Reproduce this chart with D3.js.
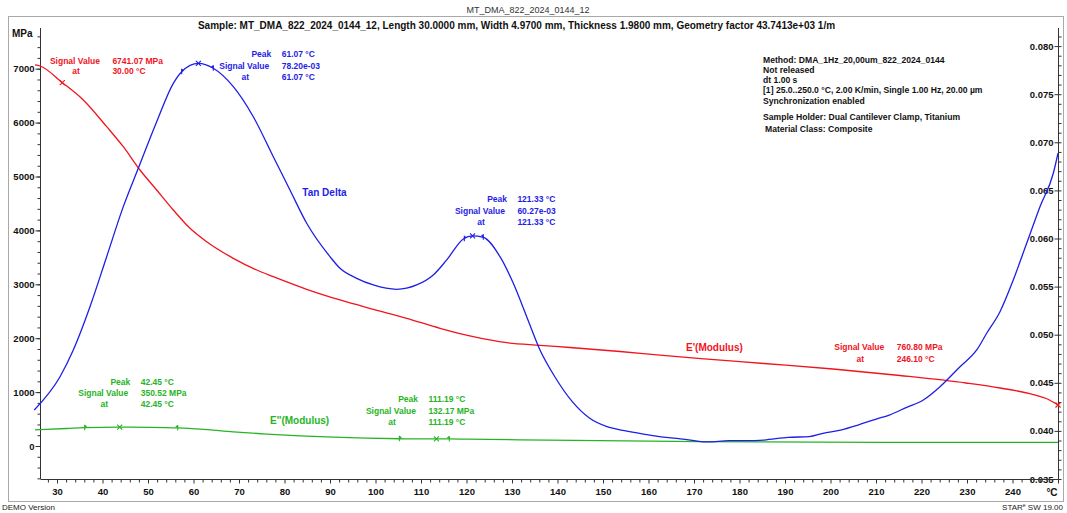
<!DOCTYPE html>
<html>
<head>
<meta charset="utf-8">
<script src="https://cdn.jsdelivr.net/npm/d3@7"></script>
<style>
  body { margin: 0; background: #fff; }
  svg { display: block; font-family: "Liberation Sans", Arial, sans-serif; }
</style>
</head>
<body>
<svg id="chart" width="1067" height="513"></svg>
<script>
// ---- Tan Delta (right axis) vs furnace temperature, °C ----
const tanDeltaTemp = [25.00, 30.66, 33.58, 37.25, 40.92, 44.57, 47.87, 51.91, 55.56, 57.41, 61.07, 64.35, 68.75, 73.14, 77.54, 81.20, 84.88, 90.00, 92.20, 95.87, 99.52, 104.66, 109.05, 112.70, 115.65, 119.30, 121.33, 123.69, 127.36, 130.29, 133.23, 136.15, 139.41, 143.25, 147.08, 150.88, 154.73, 158.62, 162.40, 166.22, 170.04, 173.08, 177.69, 181.54, 185.38, 190.72, 195.32, 198.35, 202.20, 206.04, 209.87, 212.92, 216.75, 220.40, 224.07, 228.46, 232.13, 234.33, 237.25, 240.17, 243.12, 246.04, 248.97, 250.00];
const tanDeltaValue = [0.04217, 0.04563, 0.04841, 0.05291, 0.05811, 0.06331, 0.06730, 0.07214, 0.07613, 0.07734, 0.07820, 0.07769, 0.07578, 0.07266, 0.06850, 0.06504, 0.06158, 0.05811, 0.05690, 0.05586, 0.05517, 0.05472, 0.05517, 0.05621, 0.05777, 0.05995, 0.06027, 0.06012, 0.05811, 0.05534, 0.05187, 0.04841, 0.04563, 0.04304, 0.04131, 0.04044, 0.04002, 0.03968, 0.03940, 0.03923, 0.03898, 0.03885, 0.03898, 0.03898, 0.03905, 0.03933, 0.03940, 0.03975, 0.04009, 0.04061, 0.04121, 0.04165, 0.04245, 0.04321, 0.04459, 0.04667, 0.04841, 0.05015, 0.05239, 0.05569, 0.05950, 0.06331, 0.06678, 0.06886];

// ---- Storage modulus E' (left axis, MPa) vs sample temperature, °C ----
const storageTemp = [24.08, 25.16, 30.00, 34.55, 39.63, 43.23, 46.86, 50.48, 54.09, 57.71, 61.33, 67.11, 72.19, 75.79, 83.04, 90.27, 97.50, 104.75, 111.97, 119.19, 126.45, 133.67, 140.19, 151.04, 159.72, 168.62, 182.28, 197.27, 211.80, 226.13, 233.57, 240.73, 243.55, 246.10];
const storageValue = [7069, 7050, 6741.07, 6419, 5924, 5553, 5121, 4750, 4378, 4039, 3790, 3482, 3265, 3141, 2907, 2709, 2536, 2369, 2184, 2028, 1917, 1868, 1828, 1753, 1688, 1623, 1531, 1429, 1308, 1169, 1076, 955, 881, 760.80];

// ---- Loss modulus E'' (left axis, MPa) vs sample temperature, °C ----
const lossTemp = [24.07, 30.95, 34.86, 42.45, 49.03, 55.05, 59.88, 67.11, 74.36, 81.59, 88.82, 96.07, 103.31, 107.50, 111.19, 113.97, 117.76, 129.34, 168.40, 207.50, 246.10];
const lossValue = [300, 325, 340, 350.52, 347, 335, 313, 263, 221, 189, 165, 145, 135, 131.5, 132.17, 131, 127, 115, 80, 68, 66];

// ---- Evaluations ----
const tanDeltaPeakTemp = [61.07, 121.33];
const tanDeltaPeakValue = [0.07820, 0.06027];
const tanDeltaPeakLimits = [[57.41, 64.35], [119.52, 123.69]];
const lossPeakTemp = [42.45, 111.19];
const lossPeakValue = [350.52, 132.17];
const lossPeakLimits = [[34.86, 55.05], [103.15, 113.99]];
const storagePointTemp = [30.00, 246.10];
const storagePointValue = [6741.07, 760.80];

// ---- Axis ticks ----
const tempTicks = [30, 40, 50, 60, 70, 80, 90, 100, 110, 120, 130, 140, 150, 160, 170, 180, 190, 200, 210, 220, 230, 240];
const modulusTicks = [0, 1000, 2000, 3000, 4000, 5000, 6000, 7000];
const tanDeltaTicks = [0.035, 0.040, 0.045, 0.050, 0.055, 0.060, 0.065, 0.070, 0.075, 0.080];

// sample thermocouple reading = gain * furnace temperature + offset
const sampleTempGain = 0.98752;
const sampleTempOffset = -0.781;

const RED = "#f0141e", BLUE = "#1e1ee6", GREEN = "#26b426";
const svg = d3.select("#chart");

const plotTop = 28, plotBottom = 479, axisLeftX = 40.5, axisRightX = 1058.5;
const x = d3.scaleLinear().domain([25, 250]).range([34.25, 1058]);
const xMod = d3.scaleLinear()
  .domain(x.domain().map(t => sampleTempGain * t + sampleTempOffset))
  .range(x.range());
const yL = d3.scaleLinear().domain([-612, 7755]).range([plotBottom, plotTop]);
const yR = d3.scaleLinear().domain([0.035, 0.08188]).range([plotBottom, plotTop]);

// outer frame
svg.append("rect").attr("x", 8.5).attr("y", 16.5).attr("width", 1055).attr("height", 485)
  .attr("fill", "none").attr("stroke", "#a9a9a9").attr("stroke-width", 1);

// header texts
svg.append("text").attr("x", 528).attr("y", 13).attr("text-anchor", "middle")
  .attr("font-size", 9).attr("fill", "#333").text("MT_DMA_822_2024_0144_12");
svg.append("text").attr("x", 516.5).attr("y", 29).attr("text-anchor", "middle")
  .attr("font-size", 10).attr("font-weight", "bold").attr("fill", "#111")
  .text("Sample: MT_DMA_822_2024_0144_12, Length 30.0000 mm, Width 4.9700 mm, Thickness 1.9800 mm, Geometry factor 43.7413e+03 1/m");

// footer texts
svg.append("text").attr("x", 2).attr("y", 510).attr("font-size", 8).attr("fill", "#222").text("DEMO Version");
const star = svg.append("text").attr("x", 1063).attr("y", 510).attr("text-anchor", "end")
  .attr("font-size", 8).attr("fill", "#222");
star.append("tspan").text("STAR");
star.append("tspan").attr("font-size", 5).attr("dy", -3).text("e");
star.append("tspan").attr("dy", 3).text(" SW 19.00");

function styleAxis(g, size) {
  g.select(".domain").remove();
  g.selectAll("line").attr("stroke", "#333");
  g.selectAll("text").attr("font-family", null).attr("font-weight", "bold")
    .attr("font-size", size).attr("fill", "#111");
}

// left axis
svg.append("line").attr("x1", axisLeftX).attr("x2", axisLeftX).attr("y1", plotTop).attr("y2", plotBottom)
  .attr("stroke", "#333");
svg.append("g").attr("transform", `translate(${axisLeftX},0)`)
  .call(d3.axisLeft(yL).tickValues(d3.range(-600, 7800, 200)).tickSize(3).tickFormat(""))
  .call(g => styleAxis(g, 9.5));
svg.append("g").attr("transform", `translate(${axisLeftX},0)`)
  .call(d3.axisLeft(yL).tickValues(modulusTicks).tickSize(5).tickPadding(1).tickFormat(d3.format("d")))
  .call(g => styleAxis(g, 9.5));
svg.append("text").attr("x", 12).attr("y", 37).attr("font-size", 10).attr("font-weight", "bold")
  .attr("fill", "#111").text("MPa");

// right axis
svg.append("line").attr("x1", axisRightX).attr("x2", axisRightX).attr("y1", plotTop).attr("y2", plotBottom)
  .attr("stroke", "#333");
svg.append("g").attr("transform", `translate(${axisRightX},0)`)
  .call(d3.axisRight(yR).tickValues(d3.range(35, 82, 1).map(v => v / 1000)).tickSize(3).tickFormat(""))
  .call(g => styleAxis(g, 9.5));
svg.append("g").attr("transform", `translate(${axisRightX},0)`)
  .call(d3.axisLeft(yR).tickValues(tanDeltaTicks).tickSize(4).tickPadding(1).tickFormat(d3.format(".3f")))
  .call(g => styleAxis(g, 9.5));

// bottom axis
svg.append("line").attr("x1", axisLeftX).attr("x2", axisRightX).attr("y1", plotBottom + 0.5).attr("y2", plotBottom + 0.5)
  .attr("stroke", "#333");
svg.append("g").attr("transform", `translate(0,${plotBottom + 0.5})`)
  .call(d3.axisBottom(x).tickValues(d3.range(28, 251, 2).filter(t => t % 10 !== 0)).tickSize(3).tickFormat(""))
  .call(g => styleAxis(g, 9.5));
svg.append("g").attr("transform", `translate(0,${plotBottom + 0.5})`)
  .call(d3.axisBottom(x).tickValues(tempTicks.concat([250])).tickSize(4).tickPadding(5)
    .tickFormat(t => t === 250 ? "" : d3.format("d")(t)))
  .call(g => styleAxis(g, 9.5));
svg.append("text").attr("x", x(250) - 6).attr("y", plotBottom + 16.5).attr("text-anchor", "middle")
  .attr("font-size", 10).attr("font-weight", "bold").attr("fill", "#111").text("°C");

// curves
const lineTan = d3.line().x(d => x(d[0])).y(d => yR(d[1])).curve(d3.curveMonotoneX);
const lineMod = d3.line().x(d => xMod(d[0])).y(d => yL(d[1])).curve(d3.curveMonotoneX);

svg.append("path").attr("d", lineMod(d3.zip(lossTemp, lossValue)))
  .attr("fill", "none").attr("stroke", GREEN).attr("stroke-width", 1.3);
svg.append("path").attr("d", lineMod(d3.zip(storageTemp, storageValue)))
  .attr("fill", "none").attr("stroke", RED).attr("stroke-width", 1.3);
svg.append("path").attr("d", lineTan(d3.zip(tanDeltaTemp, tanDeltaValue)))
  .attr("fill", "none").attr("stroke", BLUE).attr("stroke-width", 1.3);

// helpers for markers
function interp(ts, vs, t) {
  const i = d3.bisectLeft(ts, t);
  if (i <= 0) return vs[0];
  if (i >= ts.length) return vs[vs.length - 1];
  const f = (t - ts[i - 1]) / (ts[i] - ts[i - 1]);
  return vs[i - 1] + f * (vs[i] - vs[i - 1]);
}
function cross(px, py, color) {
  svg.append("path").attr("transform", `translate(${px},${py})`)
    .attr("d", "M-2.5,-2.5L2.5,2.5M-2.5,2.5L2.5,-2.5")
    .attr("stroke", color).attr("stroke-width", 1.1).attr("fill", "none");
}
function limit(px, py, color, dir) {
  svg.append("path").attr("transform", `translate(${px},${py})`)
    .attr("d", "M0,-3L0,2.5").attr("stroke", color).attr("stroke-width", 1.1);
  svg.append("path").attr("transform", `translate(${px},${py})`)
    .attr("d", `M0,-3L${2.5 * dir},-1.5L0,0Z`).attr("fill", color);
}

tanDeltaPeakTemp.forEach((t, i) => {
  cross(x(t), yR(tanDeltaPeakValue[i]), BLUE);
  tanDeltaPeakLimits[i].forEach((lt, k) =>
    limit(x(lt), yR(interp(tanDeltaTemp, tanDeltaValue, lt)), BLUE, k === 0 ? 1 : -1));
});
lossPeakTemp.forEach((t, i) => {
  cross(xMod(t), yL(lossPeakValue[i]), GREEN);
  lossPeakLimits[i].forEach((lt, k) =>
    limit(xMod(lt), yL(interp(lossTemp, lossValue, lt)), GREEN, k === 0 ? 1 : -1));
});
storagePointTemp.forEach((t, i) => cross(xMod(t), yL(storagePointValue[i]), RED));

// evaluation labels
const fmtT = t => t.toFixed(2) + " °C";
const fmtE = v => v.toFixed(2) + " MPa";
const fmtTan = v => (v * 1000).toFixed(2) + "e-03";

function block(color, R, yTop, step, rows) {
  const g = svg.append("g").attr("fill", color).attr("font-size", 8.5).attr("font-weight", "bold");
  rows.forEach(([label, value], j) => {
    const yb = yTop + j * step + 3;
    const t = g.append("text").attr("y", yb).text(label);
    if (label === "at") t.attr("x", R - 24).attr("text-anchor", "middle");
    else if (label === "Peak") t.attr("x", R + 2).attr("text-anchor", "end");
    else t.attr("x", R).attr("text-anchor", "end");
    g.append("text").attr("x", R + 12.4).attr("y", yb).text(value);
  });
}

block(RED, 100, 60.5, 10.5, [["Signal Value", fmtE(storagePointValue[0])], ["at", fmtT(storagePointTemp[0])]]);
block(RED, 884.3, 347.3, 11.4, [["Signal Value", fmtE(storagePointValue[1])], ["at", fmtT(storagePointTemp[1])]]);
block(BLUE, 269.3, 54, 11.5, [["Peak", fmtT(tanDeltaPeakTemp[0])], ["Signal Value", fmtTan(tanDeltaPeakValue[0])], ["at", fmtT(tanDeltaPeakTemp[0])]]);
block(BLUE, 505, 199, 11.5, [["Peak", fmtT(tanDeltaPeakTemp[1])], ["Signal Value", fmtTan(tanDeltaPeakValue[1])], ["at", fmtT(tanDeltaPeakTemp[1])]]);
block(GREEN, 128.3, 381.7, 11, [["Peak", fmtT(lossPeakTemp[0])], ["Signal Value", fmtE(lossPeakValue[0])], ["at", fmtT(lossPeakTemp[0])]]);
block(GREEN, 416, 399, 11.5, [["Peak", fmtT(lossPeakTemp[1])], ["Signal Value", fmtE(lossPeakValue[1])], ["at", fmtT(lossPeakTemp[1])]]);

// series names
svg.append("text").attr("x", 302.3).attr("y", 195.5).attr("font-size", 10).attr("font-weight", "bold")
  .attr("fill", BLUE).text("Tan Delta");
svg.append("text").attr("x", 686).attr("y", 351).attr("font-size", 10).attr("font-weight", "bold")
  .attr("fill", RED).text("E'(Modulus)");
svg.append("text").attr("x", 270).attr("y", 424).attr("font-size", 10).attr("font-weight", "bold")
  .attr("fill", GREEN).text("E''(Modulus)");

// method information
const methodLines = [
  ["Method: DMA_1Hz_20,00um_822_2024_0144", 60],
  ["Not released", 69.8],
  ["dt 1.00 s", 79.6],
  ["[1] 25.0..250.0 °C, 2.00 K/min, Single 1.00 Hz, 20.00 µm", 90],
  ["Synchronization enabled", 100.6],
  ["Sample Holder: Dual Cantilever Clamp, Titanium", 116.5],
  ["Material Class: Composite", 129.2]
];
const info = svg.append("g").attr("font-size", 8.6).attr("font-weight", "bold").attr("fill", "#111");
methodLines.forEach(([txt, yc], i) => {
  info.append("text").attr("x", i === 6 ? 765 : 763).attr("y", yc + 3).text(txt);
});
</script>
</body>
</html>
